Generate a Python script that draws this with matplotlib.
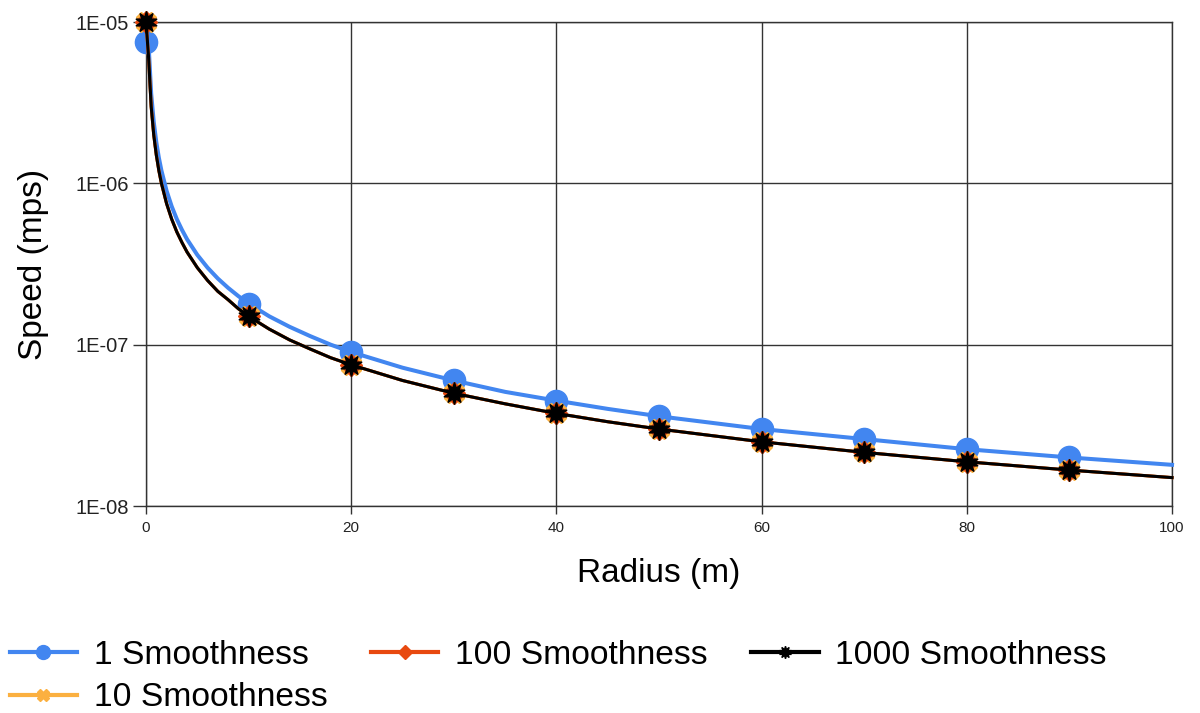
import matplotlib.pyplot as plt
from matplotlib.lines import Line2D
from matplotlib.ticker import FixedLocator, FuncFormatter, NullLocator

plt.rcParams['font.family'] = ['Liberation Sans', 'DejaVu Sans']

# radius samples (m)
radius = [0, 0.25, 0.5, 0.75, 1, 1.25, 1.5, 2, 2.5, 3, 3.5, 4, 5, 6, 7, 8, 9,
          10, 12, 14, 16, 18, 20, 25, 30, 35, 40, 45, 50, 60, 70, 80, 90, 100]

# speed (mps) per smoothness setting
speed_1 = [7.5e-6, 7.2e-6, 3.6e-6, 2.4e-6, 1.8e-6, 1.44e-6, 1.2e-6, 9.0e-7, 7.2e-7,
           6.0e-7, 5.15e-7, 4.5e-7, 3.6e-7, 3.0e-7, 2.57e-7, 2.25e-7, 2.0e-7,
           1.8e-7, 1.5e-7, 1.29e-7, 1.13e-7, 1.0e-7, 9.0e-8, 7.2e-8, 6.0e-8,
           5.1e-8, 4.5e-8, 4.0e-8, 3.6e-8, 3.0e-8, 2.6e-8, 2.25e-8, 2.0e-8, 1.8e-8]
speed_10 = [1.0e-5, 6.0e-6, 3.0e-6, 2.0e-6, 1.5e-6, 1.2e-6, 1.0e-6, 7.5e-7, 6.0e-7,
            5.0e-7, 4.3e-7, 3.75e-7, 3.0e-7, 2.5e-7, 2.14e-7, 1.9e-7, 1.67e-7,
            1.5e-7, 1.25e-7, 1.07e-7, 9.4e-8, 8.3e-8, 7.5e-8, 6.0e-8, 5.0e-8,
            4.3e-8, 3.75e-8, 3.33e-8, 3.0e-8, 2.5e-8, 2.15e-8, 1.88e-8, 1.67e-8, 1.5e-8]
speed_100 = [1.0e-5, 6.0e-6, 3.0e-6, 2.0e-6, 1.5e-6, 1.2e-6, 1.0e-6, 7.5e-7, 6.0e-7,
             5.0e-7, 4.3e-7, 3.75e-7, 3.0e-7, 2.5e-7, 2.14e-7, 1.9e-7, 1.67e-7,
             1.5e-7, 1.25e-7, 1.07e-7, 9.4e-8, 8.3e-8, 7.5e-8, 6.0e-8, 5.0e-8,
             4.3e-8, 3.75e-8, 3.33e-8, 3.0e-8, 2.5e-8, 2.15e-8, 1.88e-8, 1.67e-8, 1.5e-8]
speed_1000 = [1.0e-5, 6.0e-6, 3.0e-6, 2.0e-6, 1.5e-6, 1.2e-6, 1.0e-6, 7.5e-7, 6.0e-7,
              5.0e-7, 4.3e-7, 3.75e-7, 3.0e-7, 2.5e-7, 2.14e-7, 1.9e-7, 1.67e-7,
              1.5e-7, 1.25e-7, 1.07e-7, 9.4e-8, 8.3e-8, 7.5e-8, 6.0e-8, 5.0e-8,
              4.3e-8, 3.75e-8, 3.33e-8, 3.0e-8, 2.5e-8, 2.15e-8, 1.88e-8, 1.67e-8, 1.5e-8]

labels = ['1 Smoothness', '10 Smoothness', '100 Smoothness', '1000 Smoothness']
x_ticks = [0, 20, 40, 60, 80, 100]
y_ticks = [1e-8, 1e-7, 1e-6, 1e-5]

# markers only every 10 m
mark_idx = [i for i, r in enumerate(radius) if r % 10 == 0 and r < 100]

blue = '#4286f0'
orange = '#fbb040'
red = '#e8490f'
star = (10, 1, 0)

fig = plt.figure(figsize=(12, 7.13), dpi=100)
ax = fig.add_axes([0.1217, 0.2903, 0.855, 0.6788])

ax.plot(radius, speed_1, color=blue, lw=2.9, marker='o', ms=16,
        markevery=mark_idx, clip_on=False, zorder=3)
ax.plot(radius, speed_10, color=orange, lw=2.2, marker='X', ms=14,
        markevery=mark_idx, clip_on=False, zorder=4)
ax.plot(radius, speed_100, color=red, lw=2.2, marker='D', ms=11,
        markevery=mark_idx, clip_on=False, zorder=5)
ax.plot(radius, speed_1000, color='black', lw=2.2, marker=star, ms=16,
        markevery=mark_idx, clip_on=False, zorder=6)

ax.set_yscale('log')
ax.set_xlim(0, 100)
ax.set_ylim(1e-8, 1e-5)
ax.xaxis.set_major_locator(FixedLocator(x_ticks))
ax.yaxis.set_major_locator(FixedLocator(y_ticks))
ax.yaxis.set_minor_locator(NullLocator())
ax.yaxis.set_major_formatter(FuncFormatter(lambda v, p: f'{v:.0E}'))

ax.grid(True, color='#333333', lw=1)
for s in ax.spines.values():
    s.set_color('#333333')
    s.set_linewidth(1)
ax.tick_params(axis='x', length=6, width=1, color='#333333', pad=5,
               labelsize=11, labelcolor='#222222')
ax.tick_params(axis='y', length=9.5, width=1, color='#333333', pad=3,
               labelsize=14.5, labelcolor='#222222')

ax.set_xlabel('Radius (m)', fontsize=24, labelpad=16)
ax.set_ylabel('Speed (mps)', fontsize=24, labelpad=19)

handles = [
    Line2D([], [], color=blue, lw=3, marker='o', ms=10),
    Line2D([], [], color=orange, lw=3, marker='X', ms=9),
    Line2D([], [], color=red, lw=3, marker='D', ms=7),
    Line2D([], [], color='black', lw=3, marker=star, ms=9),
]
fig.legend(handles, labels, loc='upper left', bbox_to_anchor=(0.008, 0.103),
           ncol=3, frameon=False, fontsize=24.2, handlelength=2.0,
           handletextpad=0.5, columnspacing=1.3, labelspacing=0.35,
           borderpad=0, borderaxespad=0)

fig.savefig('out.png', dpi=100)
